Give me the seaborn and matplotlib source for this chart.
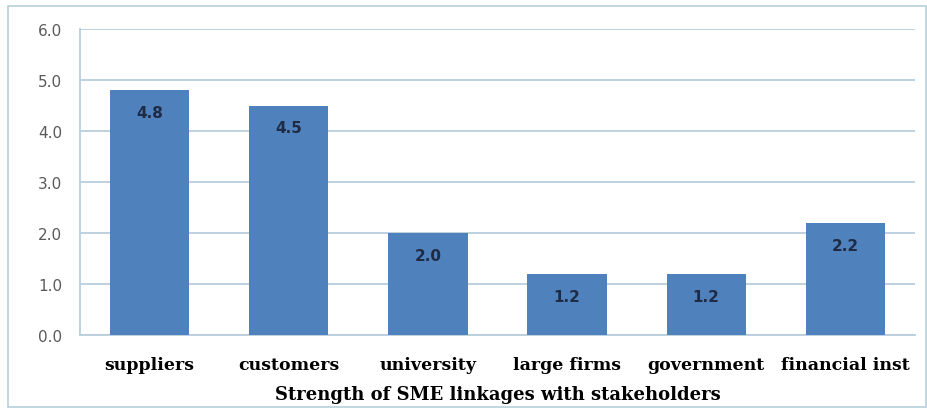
import matplotlib
matplotlib.use("Agg")
import matplotlib.pyplot as plt
import seaborn as sns
import pandas as pd
from matplotlib.patches import Rectangle

categories = ["suppliers", "customers", "university", "large firms", "government", "financial inst"]
values = [4.8, 4.5, 2.0, 1.2, 1.2, 2.2]
value_labels = ["4.8", "4.5", "2.0", "1.2", "1.2", "2.2"]
yticks = [0.0, 1.0, 2.0, 3.0, 4.0, 5.0, 6.0]
xlabel = "Strength of SME linkages with stakeholders"

sns.set_theme(style="white")
plt.rcParams['font.family'] = ['DejaVu Sans']

df = pd.DataFrame({"cat": categories, "val": values})

fig = plt.figure(figsize=(9.28, 4.10), dpi=100)
ax = fig.add_axes([80/928, 1-336/410, 835/928, 306/410])

sns.barplot(data=df, x="cat", y="val", color="#4f81bd", saturation=1, width=0.57, ax=ax, zorder=3)
for p in ax.patches:
    p.set_edgecolor("none")

ax.set_ylim(0, 6)
ax.set_xlim(-0.5, len(categories) - 0.5)
ax.set_yticks(yticks)
ax.set_yticklabels([f"{v:.1f}" for v in yticks], color="#5a5a5a", fontsize=11)
ax.yaxis.grid(True, color="#b7cfdc", linewidth=1.3, zorder=0)
ax.set_axisbelow(True)
ax.tick_params(axis="y", length=0, pad=13)
ax.tick_params(axis="x", length=0, pad=15)
ax.set_xticks(range(len(categories)))
ax.set_xticklabels(categories, fontfamily="DejaVu Serif", fontweight="bold", fontsize=12.5, color="black")
ax.set_ylabel("")
ax.set_xlabel(xlabel, fontfamily="DejaVu Serif", fontweight="bold", fontsize=13, color="black", labelpad=9)

for s in ["top", "right"]:
    ax.spines[s].set_visible(False)
for s in ["left", "bottom"]:
    ax.spines[s].set_color("#b7cfdc")
    ax.spines[s].set_linewidth(1.3)

for i, (v, lab) in enumerate(zip(values, value_labels)):
    ax.annotate(lab, (i, v), xytext=(0, -16), textcoords="offset points",
                ha="center", va="center", fontsize=11, color="#1f2a44", fontweight="bold")

fig.patches.append(Rectangle((8/928, 0.005), 0.998 - 8/928, 1 - 7/410 - 0.005, transform=fig.transFigure,
                             fill=False, edgecolor="#b7cfdc", linewidth=1.2))

fig.savefig("out.png", dpi=100)
